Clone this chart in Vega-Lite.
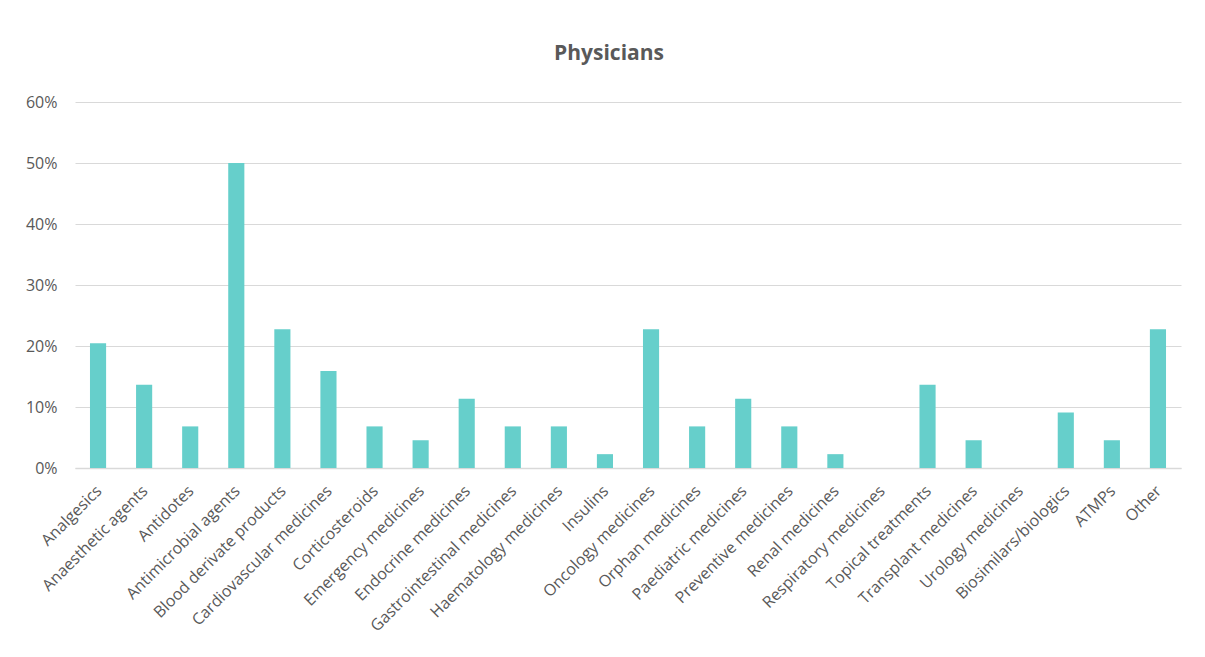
{
  "$schema": "https://vega.github.io/schema/vega-lite/v6.json",
  "width": 1106,
  "height": 366,
  "autosize": {"type": "none"},
  "padding": {"left": 75, "top": 102, "right": 24, "bottom": 189},
  "background": "white",
  "title": {
    "text": "Physicians",
    "font": "Open Sans",
    "fontSize": 21,
    "fontWeight": "bold",
    "color": "#595959",
    "anchor": "middle",
    "offset": 30,
    "dx": -19
  },
  "data": {
    "values": [
      {"category": "Analgesics", "value": 0.2045},
      {"category": "Anaesthetic agents", "value": 0.1364},
      {"category": "Antidotes", "value": 0.0682},
      {"category": "Antimicrobial agents", "value": 0.5},
      {"category": "Blood derivate products", "value": 0.2273},
      {"category": "Cardiovascular medicines", "value": 0.1591},
      {"category": "Corticosteroids", "value": 0.0682},
      {"category": "Emergency medicines", "value": 0.0455},
      {"category": "Endocrine medicines", "value": 0.1136},
      {"category": "Gastrointestinal medicines", "value": 0.0682},
      {"category": "Haematology medicines", "value": 0.0682},
      {"category": "Insulins", "value": 0.0227},
      {"category": "Oncology medicines", "value": 0.2273},
      {"category": "Orphan medicines", "value": 0.0682},
      {"category": "Paediatric medicines", "value": 0.1136},
      {"category": "Preventive medicines", "value": 0.0682},
      {"category": "Renal medicines", "value": 0.0227},
      {"category": "Respiratory medicines", "value": 0},
      {"category": "Topical treatments", "value": 0.1364},
      {"category": "Transplant medicines", "value": 0.0455},
      {"category": "Urology medicines", "value": 0},
      {"category": "Biosimilars/biologics", "value": 0.0909},
      {"category": "ATMPs", "value": 0.0455},
      {"category": "Other", "value": 0.2273}
    ]
  },
  "mark": {"type": "bar", "color": "#66CFCB"},
  "encoding": {
    "x": {
      "field": "category",
      "type": "nominal",
      "sort": null,
      "title": null,
      "scale": {"paddingInner": 0.65, "paddingOuter": 0.325},
      "axis": {
        "labelAngle": -45,
        "labelAlign": "right",
        "labelBaseline": "middle",
        "labelFont": "Open Sans",
        "labelFontSize": 16,
        "labelColor": "#595959",
        "labelPadding": 20,
        "labelOffset": 1,
        "ticks": false,
        "domainColor": "#D9D9D9",
        "domainWidth": 1.5,
        "labelLimit": 300
      }
    },
    "y": {
      "field": "value",
      "type": "quantitative",
      "title": null,
      "scale": {"domain": [0, 0.6]},
      "axis": {
        "format": ".0%",
        "values": [0, 0.1, 0.2, 0.3, 0.4, 0.5, 0.6],
        "labelFont": "Open Sans",
        "labelFontSize": 16,
        "labelColor": "#595959",
        "labelPadding": 18,
        "ticks": false,
        "domain": false,
        "gridColor": "#D9D9D9",
        "gridWidth": 1.2
      }
    }
  },
  "config": {"view": {"stroke": null}}
}
